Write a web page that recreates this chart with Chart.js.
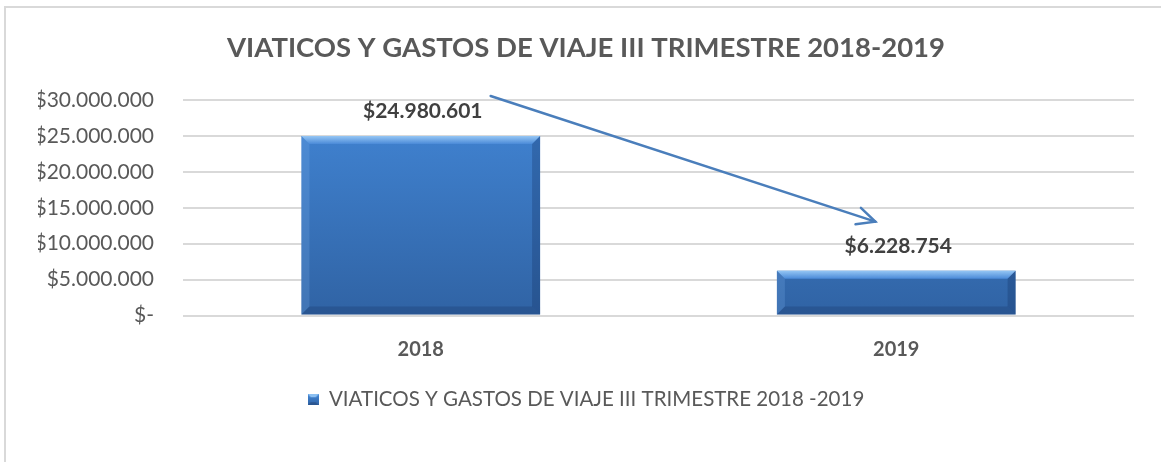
<!DOCTYPE html>
<html>
<head>
<meta charset="utf-8">
<script src="https://cdn.jsdelivr.net/npm/chart.js@4"></script>
<style>
  body { margin: 0; background: #fff; }
  #frame { position: absolute; left: 4px; top: 6px; width: 1200px; height: 500px; border: 2px solid #d9d9d9; box-sizing: border-box; }
  #wrap { position: absolute; left: 0; top: 0; width: 1161px; height: 462px; }
</style>
</head>
<body>
<div id="frame"></div>
<div id="wrap"><canvas id="c" width="1161" height="462"></canvas></div>
<script>
var categories = ['2018', '2019'];
var values = [24980601, 6228754];
var valueLabels = ['$24.980.601', '$6.228.754'];
var tickValues = [0, 5000000, 10000000, 15000000, 20000000, 25000000, 30000000];
var tickLabels = ['$-', '$5.000.000', '$10.000.000', '$15.000.000', '$20.000.000', '$25.000.000', '$30.000.000'];
var seriesName = 'VIATICOS Y GASTOS DE VIAJE III TRIMESTRE 2018 -2019';
var chartTitle = 'VIATICOS Y GASTOS DE VIAJE III TRIMESTRE 2018-2019';
// arrow drawn over the chart, in category index / value units
var arrowFrom = { x: 0.147, y: 30560000 };
var arrowTo = { x: 0.956, y: 13060000 };

var FONT = 'Lato, "Open Sans", sans-serif';
var GREY = '#595959';

function barGradient(ctx, top, bottom) {
  var g = ctx.createLinearGradient(0, top, 0, bottom);
  g.addColorStop(0, '#4286d6');
  g.addColorStop(1, '#3063a4');
  return g;
}

// little legend marker, same look as the bars
var marker = document.createElement('canvas');
marker.width = 11; marker.height = 11;
(function () {
  var m = marker.getContext('2d');
  m.fillStyle = barGradient(m, 0, 11);
  m.fillRect(0, 0, 11, 11);
  m.fillStyle = '#8cc0f2';
  m.beginPath(); m.moveTo(0, 0); m.lineTo(11, 0); m.lineTo(8, 3); m.lineTo(3, 3); m.closePath(); m.fill();
  m.fillStyle = '#2a5590';
  m.beginPath(); m.moveTo(0, 11); m.lineTo(11, 11); m.lineTo(8, 8); m.lineTo(3, 8); m.closePath(); m.fill();
})();

var bevelPlugin = {
  id: 'bevel',
  afterDatasetsDraw: function (chart) {
    var ctx = chart.ctx;
    var meta = chart.getDatasetMeta(0);
    ctx.save();
    meta.data.forEach(function (bar, i) {
      var l = bar.x - bar.width / 2, r = bar.x + bar.width / 2;
      var t = bar.y, b = bar.base;
      var e = 8;
      // top bevel
      var gt = ctx.createLinearGradient(0, t, 0, t + e);
      gt.addColorStop(0, '#95c6f4'); gt.addColorStop(1, '#4a8ad8');
      ctx.fillStyle = gt;
      ctx.beginPath(); ctx.moveTo(l, t); ctx.lineTo(r, t); ctx.lineTo(r - e, t + e); ctx.lineTo(l + e, t + e); ctx.closePath(); ctx.fill();
      // left bevel
      ctx.fillStyle = 'rgba(120,170,230,0.25)';
      ctx.beginPath(); ctx.moveTo(l, t); ctx.lineTo(l + e, t + e); ctx.lineTo(l + e, b - e); ctx.lineTo(l, b); ctx.closePath(); ctx.fill();
      // right bevel
      ctx.fillStyle = 'rgba(20,50,100,0.3)';
      ctx.beginPath(); ctx.moveTo(r, t); ctx.lineTo(r - e, t + e); ctx.lineTo(r - e, b - e); ctx.lineTo(r, b); ctx.closePath(); ctx.fill();
      // bottom bevel
      ctx.fillStyle = 'rgba(20,45,90,0.25)';
      ctx.beginPath(); ctx.moveTo(l, b); ctx.lineTo(r, b); ctx.lineTo(r - e, b - e); ctx.lineTo(l + e, b - e); ctx.closePath(); ctx.fill();

      // value label
      ctx.fillStyle = '#404040';
      ctx.font = 'bold 21px ' + FONT;
      ctx.textAlign = 'center';
      ctx.textBaseline = 'middle';
      ctx.fillText(valueLabels[i], bar.x + 2, t - 25);
    });

    // arrow
    var xs = chart.scales.x, ys = chart.scales.y;
    var x1 = xs.getPixelForValue(arrowFrom.x), y1 = ys.getPixelForValue(arrowFrom.y);
    var x2 = xs.getPixelForValue(arrowTo.x), y2 = ys.getPixelForValue(arrowTo.y);
    var ang = Math.atan2(y2 - y1, x2 - x1);
    ctx.strokeStyle = '#4a7ebb';
    ctx.lineWidth = 2.5;
    ctx.lineCap = 'round';
    ctx.beginPath(); ctx.moveTo(x1, y1); ctx.lineTo(x2, y2); ctx.stroke();
    var h = 20;
    ctx.beginPath();
    ctx.moveTo(x2 - h * Math.cos(ang - 0.45), y2 - h * Math.sin(ang - 0.45));
    ctx.lineTo(x2, y2);
    ctx.lineTo(x2 - h * Math.cos(ang + 0.45), y2 - h * Math.sin(ang + 0.45));
    ctx.stroke();
    ctx.restore();
  }
};

var ctx = document.getElementById('c').getContext('2d');
var chart = new Chart(ctx, {
  type: 'bar',
  data: {
    labels: categories,
    datasets: [{
      label: seriesName,
      data: values,
      backgroundColor: function (context) {
        var ca = context.chart.chartArea;
        if (!ca) return '#3b74bd';
        return barGradient(context.chart.ctx, ca.top, ca.bottom);
      },
      borderWidth: 0,
      barPercentage: 0.502,
      categoryPercentage: 1,
      pointStyle: marker
    }]
  },
  plugins: [bevelPlugin],
  options: {
    responsive: false,
    animation: false,
    layout: { padding: { left: 38, right: 27, top: 0, bottom: 42 } },
    scales: {
      x: {
        grid: { display: false },
        border: { display: false },
        ticks: { color: GREY, font: { family: FONT, size: 20, weight: 'bold' }, padding: 14 }
      },
      y: {
        min: 0,
        max: 30000000,
        afterFit: function (scale) { scale.width = 145; },
        afterBuildTicks: function (scale) {
          scale.ticks = tickValues.map(function (v) { return { value: v }; });
        },
        grid: { color: '#d9d9d9', lineWidth: 2, drawTicks: false },
        border: { display: false },
        ticks: {
          color: GREY,
          font: { family: FONT, size: 21 },
          padding: 29,
          callback: function (value) {
            var i = tickValues.indexOf(value);
            return i >= 0 ? tickLabels[i] : '';
          }
        }
      }
    },
    plugins: {
      title: {
        display: true,
        text: chartTitle,
        color: GREY,
        font: { family: FONT, size: 27.5, weight: 'bold' },
        padding: { top: 32, bottom: 35 }
      },
      legend: {
        position: 'bottom',
        labels: {
          usePointStyle: true,
          boxWidth: 11,
          boxHeight: 11,
          color: GREY,
          font: { family: FONT, size: 20.5 },
          padding: 14
        }
      },
      tooltip: { enabled: false }
    }
  }
});
</script>
</body>
</html>
